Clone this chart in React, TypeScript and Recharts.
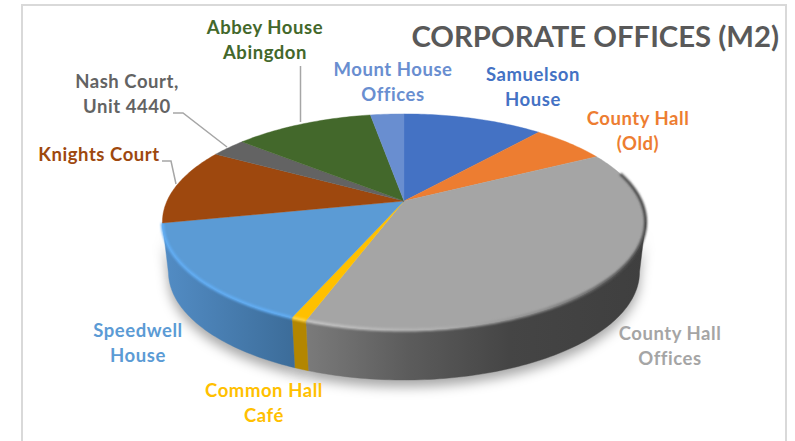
import { PieChart, Pie } from "recharts"

const offices = ["Samuelson House", "County Hall (Old)", "County Hall Offices", "Common Hall Café", "Speedwell House", "Knights Court", "Nash Court, Unit 4440", "Abbey House Abingdon", "Mount House Offices"]
const areas = [1130, 600, 3820, 85, 1540, 1145, 285, 1125, 270]
const colors = ["#4472c4", "#ed7d31", "#a5a5a5", "#ffc000", "#5b9bd5", "#9e480e", "#636363", "#43682b", "#698ed0"]
const walls = ["none", "none", "url(#wallGrey)", "#b38600", "url(#wallBlue)", "none", "none", "none", "none"]
const rims = ["none", "none", "url(#rimGrey)", "#ffd54a", "#62aef5", "none", "none", "none", "none"]
const labelLines = [["Samuelson", "House"], ["County Hall", "(Old)"], ["County Hall", "Offices"], ["Common Hall", "Café"], ["Speedwell", "House"], ["Knights Court"], ["Nash Court,", "Unit 4440"], ["Abbey House", "Abingdon"], ["Mount House", "Offices"]]

// label layout, Excel had these dragged by hand
const labelPos = [[533, 81], [638, 125], [670, 340], [264, 397], [138, 337], [99, 161], [127, 88], [265, 34], [393, 76]]
const leaders: Record<number, string> = {
  5: "M162 161 L171 161 L176 184",
  6: "M173 113 L183 113 L227 147",
  7: "M300.5 66 L300.5 122",
}

const tableData = offices.map((name, i) => ({ name, value: areas[i], fill: colors[i], wall: walls[i], rim: rims[i] }))

// fake perspective of the tilted disc
const TILT = 104 / 237
const PERSP = -0.194
const DEPTH = 50
const BOTTOM_SCALE = 0.975
const WALL_FROM = 101.2
const WALL_TO = 258.8
const RIM_FROM = 74

const project = (cx: number, cy: number, r: number, clock: number) => {
  const t = (clock * Math.PI) / 180
  const u = Math.sin(t)
  const v = -Math.cos(t)
  const d = 1 + PERSP * v
  return [cx + (r * u) / d, cy + (r * TILT * v) / d]
}

const arcPoints = (cx: number, cy: number, r: number, a: number, b: number) => {
  const pts: number[][] = []
  const n = Math.max(2, Math.ceil(Math.abs(b - a)))
  for (let i = 0; i <= n; i++) pts.push(project(cx, cy, r, a + ((b - a) * i) / n))
  return pts
}

const toD = (pts: number[][]) => pts.map((p, i) => `${i ? "L" : "M"}${p[0].toFixed(2)} ${p[1].toFixed(2)}`).join(" ")

const clockRange = (p: any) => {
  const a = 90 - p.startAngle
  const b = 90 - p.endAngle
  return [Math.min(a, b), Math.max(a, b)]
}

const wallPath = (p: any) => {
  const [a, b] = clockRange(p)
  const from = Math.max(a, WALL_FROM)
  const to = Math.min(b, WALL_TO)
  if (from >= to) return null
  const top = arcPoints(p.cx, p.cy, p.outerRadius, from, to)
  const bottom = top
    .map(([x, y]) => [p.cx + (x - p.cx) * BOTTOM_SCALE, y + DEPTH])
    .reverse()
  return toD(top.concat(bottom)) + " Z"
}

const ShadowShape = (p: any) => {
  const d = wallPath(p)
  if (!d) return <g />
  return <path d={d} fill="#000" fillOpacity={0.34} transform="translate(0 7)" filter="url(#softShadow)" />
}

const WallShape = (p: any) => {
  const d = wallPath(p)
  const wall = p.wall ?? p.payload?.wall
  if (!d) return <g />
  return <path d={d} fill={wall} stroke={wall} strokeWidth={0.4} />
}

const FaceShape = (p: any) => {
  const [a, b] = clockRange(p)
  const rim = p.rim ?? p.payload?.rim
  const pts = arcPoints(p.cx, p.cy, p.outerRadius, a, b)
  const d = `M${p.cx} ${p.cy} ` + toD(pts).replace("M", "L") + " Z"
  const rimPts = arcPoints(p.cx, p.cy, p.outerRadius, Math.max(a, RIM_FROM), b)
  return (
    <g>
      <path d={d} fill={p.fill} stroke={p.fill} strokeWidth={0.4} />
      {rim !== "none" && <path d={toD(rimPts)} fill="none" stroke={rim} strokeWidth={3} filter="url(#rimBlur)" />}
    </g>
  )
}

const renderLabel = (p: any) => {
  const [x, y] = labelPos[p.index]
  return (
    <text x={x} y={y} textAnchor="middle" fontFamily="Lato" fontWeight={700} fontSize={18.5} letterSpacing={0.55} fill={colors[p.index]}>
      {labelLines[p.index].map((line, i) => (
        <tspan key={line} x={x} dy={i ? 25 : 0}>{line}</tspan>
      ))}
    </text>
  )
}

const renderLeader = (p: any) => {
  const d = leaders[p.index]
  if (!d) return <g />
  return <path d={d} fill="none" stroke="#a6a6a6" strokeWidth={1.5} />
}

export default function App() {
  return (
    <div style={{ position: "absolute", left: 0, top: 0, width: 795, height: 441, background: "#fff" }}>
      <PieChart width={795} height={441} margin={{ top: 0, right: 0, bottom: 0, left: 0 }}>
        <defs>
          <linearGradient id="wallGrey" gradientUnits="userSpaceOnUse" x1={305} y1={0} x2={646} y2={0}>
            <stop offset="0" stopColor="#7b7b7b" />
            <stop offset="0.3" stopColor="#5c5c5c" />
            <stop offset="0.6" stopColor="#454545" />
            <stop offset="1" stopColor="#3f3f3f" />
          </linearGradient>
          <linearGradient id="wallBlue" gradientUnits="userSpaceOnUse" x1={165} y1={0} x2={295} y2={0}>
            <stop offset="0" stopColor="#528cc4" />
            <stop offset="1" stopColor="#3c6c99" />
          </linearGradient>
          <linearGradient id="rimGrey" gradientUnits="userSpaceOnUse" x1={305} y1={0} x2={646} y2={0}>
            <stop offset="0" stopColor="#c4c4c4" />
            <stop offset="0.4" stopColor="#b0b0b0" />
            <stop offset="0.7" stopColor="#8a8a8a" />
            <stop offset="0.92" stopColor="#555" />
            <stop offset="1" stopColor="#444" />
          </linearGradient>
          <filter id="softShadow" filterUnits="userSpaceOnUse" x={0} y={0} width={795} height={441}>
            <feGaussianBlur stdDeviation={6} />
          </filter>
          <filter id="rimBlur" filterUnits="userSpaceOnUse" x={0} y={0} width={795} height={441}>
            <feGaussianBlur stdDeviation={1.2} />
          </filter>
        </defs>
        <path d="M22 441 V5 H786 V441" fill="none" stroke="#d9d9d9" strokeWidth={2} />
        <Pie data={tableData} dataKey="value" cx={404} cy={201} outerRadius={237} startAngle={90} endAngle={-270} shape={ShadowShape} stroke="none" isAnimationActive={false} />
        <Pie data={tableData} dataKey="value" cx={404} cy={201} outerRadius={237} startAngle={90} endAngle={-270} shape={WallShape} stroke="none" isAnimationActive={false} />
        <Pie data={tableData} dataKey="value" cx={404} cy={201} outerRadius={237} startAngle={90} endAngle={-270} shape={FaceShape} stroke="none" label={renderLabel} labelLine={renderLeader} isAnimationActive={false} />
        <text x={779} y={47} textAnchor="end" fontFamily="Lato" fontWeight={700} fontSize={29.3} fill="#595959">CORPORATE OFFICES (M2)</text>
      </PieChart>
    </div>
  )
}
